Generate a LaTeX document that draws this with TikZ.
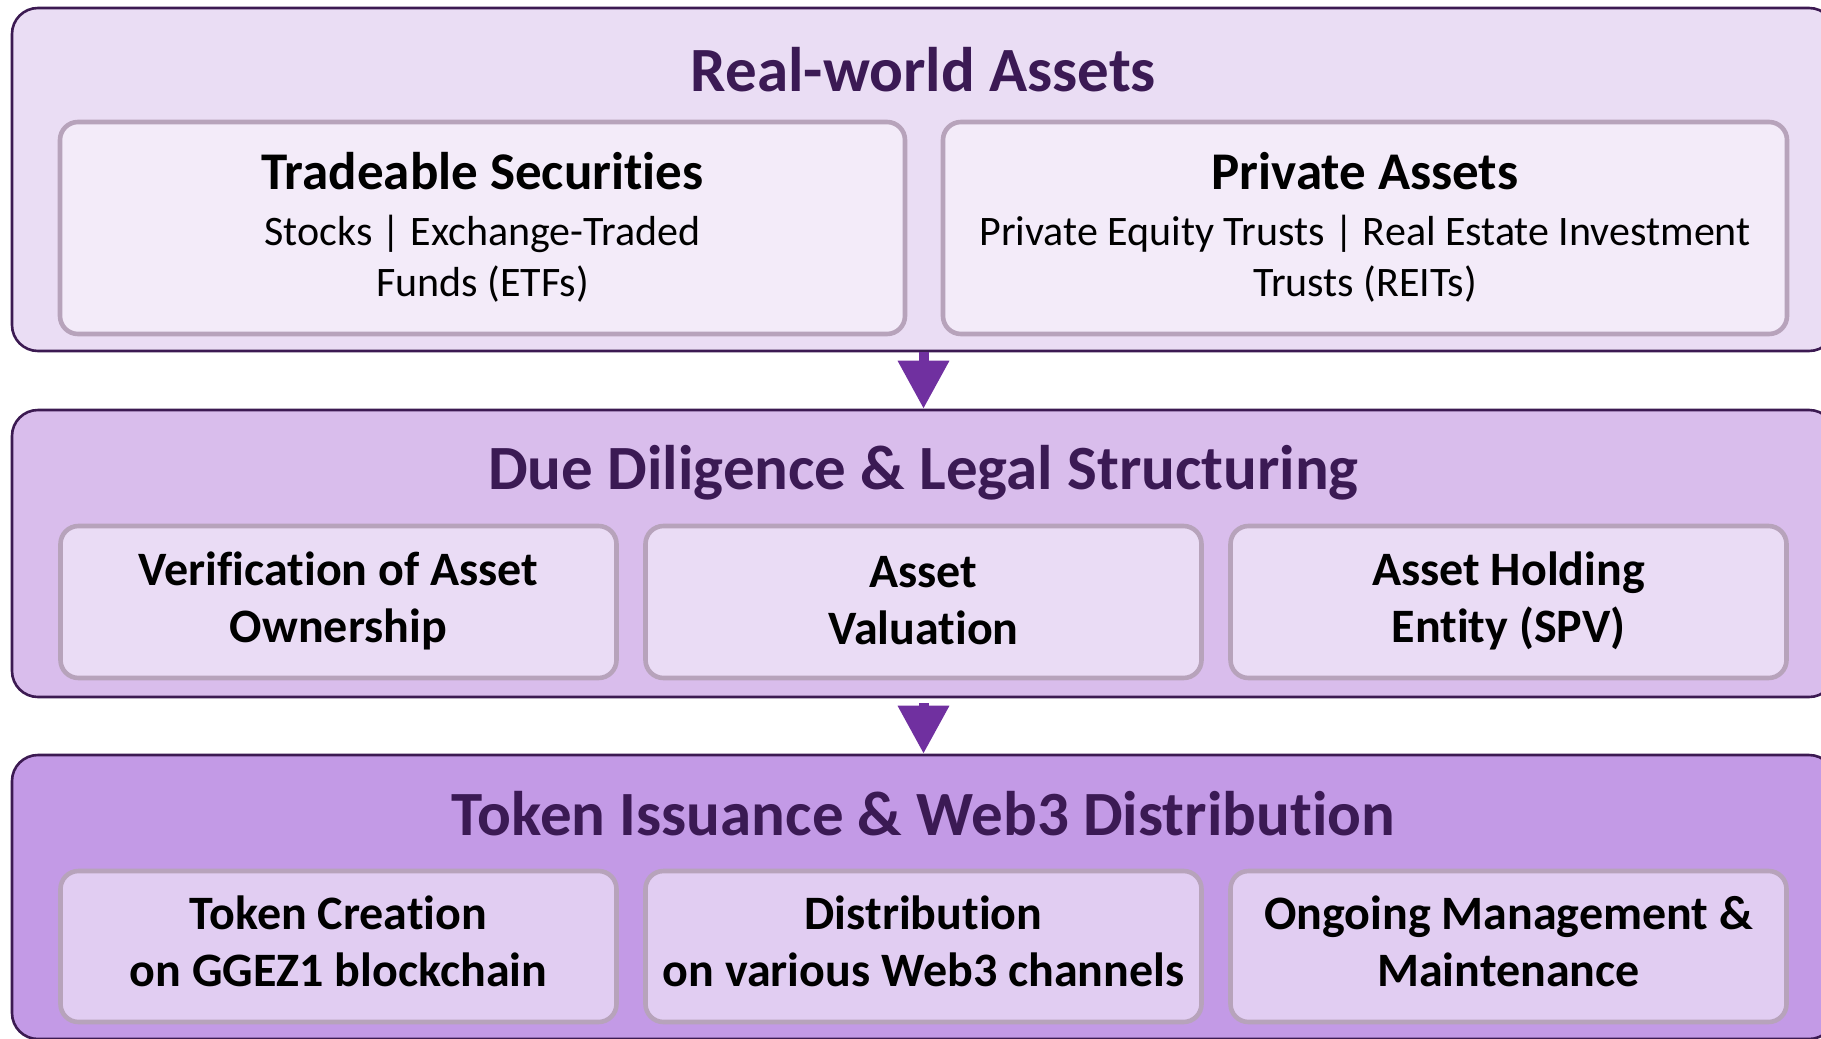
\documentclass[tikz,border=0pt]{standalone}
\usepackage{fontspec}
\setmainfont{Carlito}[Ligatures={NoCommon}]
\usetikzlibrary{arrows.meta}
\definecolor{ofillA}{HTML}{EADDF4}
\definecolor{ifillA}{HTML}{F3EBF9}
\definecolor{ofillB}{HTML}{D9BDEC}
\definecolor{ifillB}{HTML}{EADCF5}
\definecolor{ofillC}{HTML}{C39AE6}
\definecolor{ifillC}{HTML}{E1CDF2}
\definecolor{obord}{HTML}{3C1A52}
\definecolor{ibord}{HTML}{B7A3BB}
\definecolor{ttl}{HTML}{3B1A54}
\definecolor{arr}{HTML}{7030A0}
\tikzset{
  outerbox/.style={draw=obord, line width=2.6pt, rounded corners=26pt, inner sep=0pt, minimum width=1823pt},
  innerbox/.style={draw=ibord, line width=4.6pt, rounded corners=18pt, inner sep=0pt},
  titletext/.style={anchor=base, text=ttl, font=\fontsize{63}{75}\selectfont\bfseries, inner sep=0pt},
  boxtext/.style={align=center, text=black, inner sep=0pt, font=\fontsize{48}{57}\selectfont\bfseries},
  desctext/.style={align=center, text=black, inner sep=0pt, font=\fontsize{42}{51}\selectfont},
  flowarrow/.style={draw=arr, line width=10pt, -{Triangle[width=49pt,length=48pt]}}
}
\begin{document}
\begin{tikzpicture}[x=1pt,y=-1pt]
\useasboundingbox (0,0) rectangle (1821,1039);
\clip (0,0) rectangle (1821,1039);
% outer boxes
\node[outerbox, fill=ofillA, minimum height=343pt] (o1) at (923.5,179.5) {};
\node[outerbox, fill=ofillB, minimum height=287pt] (o2) at (923.5,553.5) {};
\node[outerbox, fill=ofillC, minimum height=284pt] (o3) at (923.5,897) {};
% titles
\node[titletext] (t1) at (923.5,91) {Real-world Assets};
\node[titletext] (t2) at (923.5,489) {Due Diligence \& Legal Structuring};
\node[titletext] (t3) at (923.5,835) {Token Issuance \& Web3 Distribution};
% row 1
\node[innerbox, fill=ifillA, minimum width=845pt, minimum height=212pt] (ts) at (482.5,228) {};
\node[innerbox, fill=ifillA, minimum width=844pt, minimum height=212pt] (pa) at (1365,228) {};
\node[desctext] (tst) at ([yshift=1pt]ts.center)
  {{\fontsize{53}{51}\selectfont\bfseries Tradeable Securities}\\[5pt]Stocks | Exchange-Traded\\Funds (ETFs)};
\node[desctext] (pat) at ([yshift=1pt]pa.center)
  {{\fontsize{53}{51}\selectfont\bfseries Private Assets}\\[5pt]Private Equity Trusts | Real Estate Investment\\Trusts (REITs)};
% row 2
\tikzset{rowtwo/.style={innerbox, fill=ifillB, minimum width=556pt, minimum height=152pt}}
\node[rowtwo] (v) at (338.5,602) {};
\node[rowtwo] (av) at (923.5,602) {};
\node[rowtwo] (sp) at (1508.5,602) {};
\node[boxtext] (vt) at ([yshift=1.5pt]v.center) {Verification of Asset\\Ownership};
\node[boxtext] (avt) at ([yshift=1.5pt]av.center) {Asset\\Valuation};
\node[boxtext] (spt) at ([yshift=1.5pt]sp.center) {Asset Holding\\Entity (SPV)};
% row 3
\tikzset{rowthree/.style={innerbox, fill=ifillC, minimum width=556pt, minimum height=151pt}}
\node[rowthree] (tc) at (338.5,946.5) {};
\node[rowthree] (di) at (923.5,946.5) {};
\node[rowthree] (om) at (1508.5,946.5) {};
\node[boxtext] (tct) at ([yshift=5pt]tc.center) {Token Creation\\on GGEZ1 blockchain};
\node[boxtext] (dit) at ([yshift=5pt]di.center) {Distribution\\on various Web3 channels};
\node[boxtext] (omt) at ([yshift=5pt]om.center) {Ongoing Management \&\\Maintenance};
% arrows
\draw[flowarrow] (o1.south) -- (o2.north);
\draw[flowarrow, shorten <=5pt] (o2.south) -- (o3.north);
\end{tikzpicture}
\end{document}
